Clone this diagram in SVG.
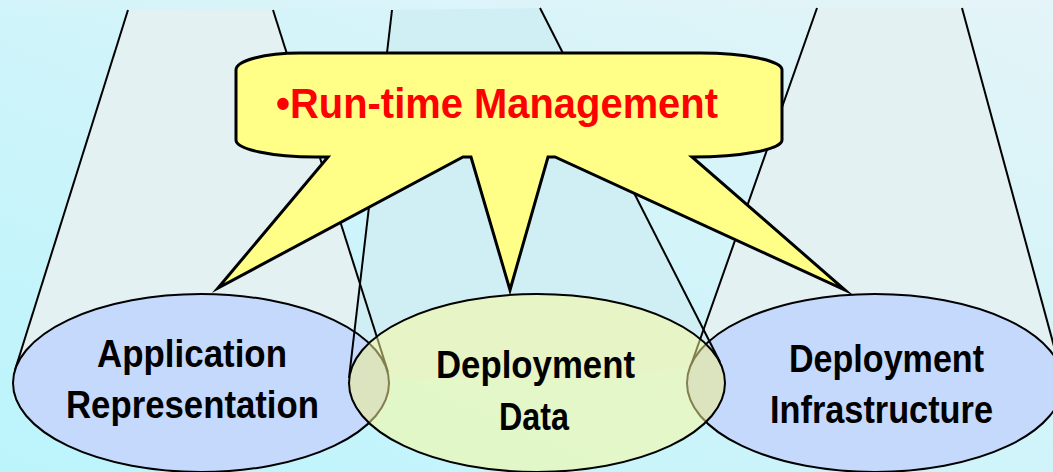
<svg xmlns="http://www.w3.org/2000/svg" width="1053" height="472" viewBox="0 0 1053 472">
  <defs>
    <linearGradient id="bg" x1="0" y1="1" x2="1" y2="0">
      <stop offset="0" stop-color="#bcf4fc"/>
      <stop offset="1" stop-color="#e4f4f8"/>
    </linearGradient>
    <clipPath id="centerClip">
      <ellipse cx="537" cy="383" rx="188" ry="89"/>
    </clipPath>
    <style>
      .cone { stroke: none; }
      .edge { stroke: #000; stroke-width: 2; fill: none; }
      .side { fill: #c5d9fc; stroke: #000; stroke-width: 2; }
      .label { font-family: "Liberation Sans", Arial, sans-serif; font-weight: bold; font-size: 38px; fill: #000; }
      .title { font-family: "Liberation Sans", Arial, sans-serif; font-weight: bold; font-size: 42px; fill: #ff0000; }
    </style>
  </defs>

  <!-- backdrop -->
  <rect x="0" y="0" width="1053" height="472" fill="url(#bg)"/>
  <rect x="0" y="0" width="1053" height="9" fill="#ffffff" opacity="0.08"/>

  <!-- cone fills -->
  <g id="cones">
    <polygon class="cone" fill="#e3f1f3" points="128,10 273,10 387,370 389,400 13,400 15,370"/>
    <polygon class="cone" fill="#e3f1f3" points="817,8 962,8 1061,372 1063,400 687,400 690,368"/>
    <polygon class="cone" fill="#d0eff5" points="392,10 540,8 720,362 600,380 349,378"/>
  </g>

  <!-- connectors: cone edges -->
  <g id="connectors">
    <line class="edge" x1="128" y1="10" x2="15" y2="370"/>
    <line class="edge" x1="273" y1="10" x2="388" y2="372"/>
    <line class="edge" x1="817" y1="8" x2="690" y2="368"/>
    <line class="edge" x1="962" y1="8" x2="1061" y2="372"/>
  </g>

  <!-- outer nodes -->
  <g id="node-application">
    <ellipse class="side" cx="201" cy="383" rx="188" ry="89"/>
  </g>
  <g id="node-infrastructure">
    <ellipse class="side" cx="875" cy="383" rx="188" ry="89"/>
  </g>

  <!-- middle cone edges lie over the outer ellipses -->
  <g id="connectors-middle">
    <line class="edge" x1="392" y1="10" x2="349" y2="378"/>
    <line class="edge" x1="540" y1="8" x2="720" y2="362"/>
  </g>

  <!-- callout with three pointers -->
  <g id="node-runtime">
    <path fill="#ffff88" stroke="#000" stroke-width="3" stroke-linejoin="miter" stroke-miterlimit="12"
          d="M236,70 A64,17 0 0 1 300,53 L700,53 A82,17 0 0 1 782,70 L782,140 A90,17 0 0 1 692,157
             L845,290 L555,157 L548,157 L510,290 L471,157 L463,157 L218,288 L328,157 L316,157
             A80,17 0 0 1 236,140 Z"/>
    <text class="title" x="276" y="118" textLength="442" lengthAdjust="spacingAndGlyphs">•Run-time Management</text>
  </g>

  <!-- translucent middle node -->
  <g id="node-data">
    <g clip-path="url(#centerClip)">
      <ellipse cx="201" cy="383" rx="188" ry="89" fill="#707060" opacity="0.12"/>
      <ellipse cx="875" cy="383" rx="188" ry="89" fill="#707060" opacity="0.12"/>
    </g>
    <ellipse cx="537" cy="383" rx="188" ry="89" fill="#fdfa96" fill-opacity="0.5" stroke="#000" stroke-width="2"/>
  </g>

  <!-- labels -->
  <g id="labels">
    <text class="label" x="97" y="367" textLength="190" lengthAdjust="spacingAndGlyphs">Application</text>
    <text class="label" x="66" y="418" textLength="253" lengthAdjust="spacingAndGlyphs">Representation</text>
    <text class="label" x="436" y="378" textLength="199" lengthAdjust="spacingAndGlyphs">Deployment</text>
    <text class="label" x="499" y="430" textLength="70" lengthAdjust="spacingAndGlyphs">Data</text>
    <text class="label" x="789" y="372" textLength="195" lengthAdjust="spacingAndGlyphs">Deployment</text>
    <text class="label" x="770" y="423" textLength="223" lengthAdjust="spacingAndGlyphs">Infrastructure</text>
  </g>
</svg>
